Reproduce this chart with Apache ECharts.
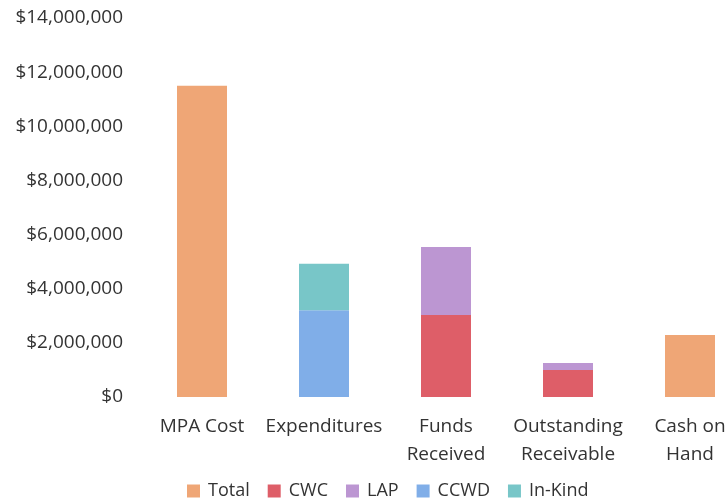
<!DOCTYPE html>
<html>
<head>
<meta charset="utf-8">
<script src="https://cdn.jsdelivr.net/npm/echarts@6/dist/echarts.min.js"></script>
<style>html,body{margin:0;padding:0;background:#fff;}#c{width:728px;height:502px;}</style>
</head>
<body>
<div id="c"></div>
<script>
const categories = ['MPA Cost', 'Expenditures', 'Funds\nReceived', 'Outstanding\nReceivable', 'Cash on\nHand'];
const totalVals = [11500000, null, null, null, 2290000];
const cwcVals = [null, null, 3030000, 1000000, null];
const lapVals = [null, null, 2510000, 260000, null];
const ccwdVals = [null, 3200000, null, null, null];
const inKindVals = [null, 1720000, null, null, null];
const yTicks = { min: 0, max: 14000000, interval: 2000000 };

const font = 'Open Sans';
const mk = (name, data, color) => ({
  name, type: 'bar', stack: 's', data, barWidth: 50,
  itemStyle: { color }
});
const chart = echarts.init(document.getElementById('c'));
chart.setOption({
  animation: false,
  textStyle: { fontFamily: font },
  grid: { left: 141, width: 610, top: 18, bottom: 105, outerBoundsMode: 'none', containLabel: false },
  xAxis: {
    type: 'category', data: categories,
    axisLine: { show: false }, axisTick: { show: false },
    axisLabel: { color: '#333', fontSize: 19, lineHeight: 28, margin: 16, interval: 0, fontFamily: font }
  },
  yAxis: {
    type: 'value', min: yTicks.min, max: yTicks.max, interval: yTicks.interval,
    splitLine: { show: false }, axisLine: { show: false }, axisTick: { show: false },
    axisLabel: {
      color: '#333', fontSize: 19, margin: 18, fontFamily: font,
      formatter: v => '$' + v.toLocaleString('en-US')
    }
  },
  legend: {
    bottom: -3, left: 182, itemWidth: 13, itemHeight: 13, itemGap: 18,
    icon: 'rect',
    textStyle: { color: '#333', fontSize: 18, fontFamily: font, padding: [0, 0, 0, 3] },
    data: ['Total', 'CWC', 'LAP', 'CCWD', 'In-Kind']
  },
  series: [
    mk('Total', totalVals, '#EFA676'),
    mk('CWC', cwcVals, '#DE5E68'),
    mk('LAP', lapVals, '#BC96D2'),
    mk('CCWD', ccwdVals, '#80AEE8'),
    mk('In-Kind', inKindVals, '#78C6C8')
  ]
});
</script>
</body>
</html>
